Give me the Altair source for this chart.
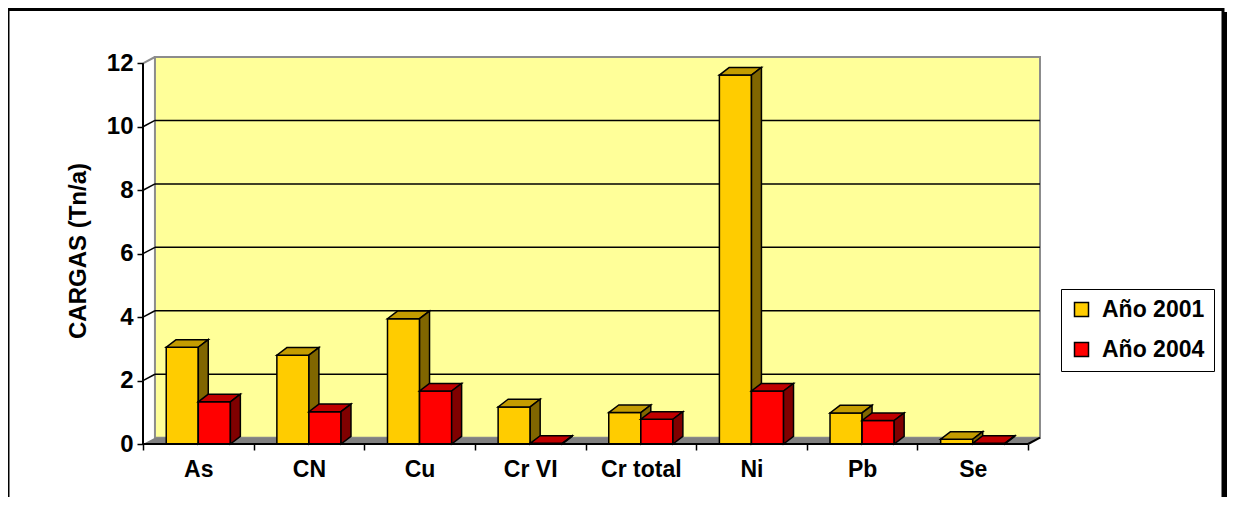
import altair as alt
import pandas as pd

# ---------------- data ----------------
categories = ["As", "CN", "Cu", "Cr VI", "Cr total", "Ni", "Pb", "Se"]
v2001 = [3.05, 2.80, 3.95, 1.17, 0.99, 11.63, 0.98, 0.15]
v2004 = [1.33, 1.02, 1.67, 0.02, 0.78, 1.67, 0.74, 0.02]
series_names = ["Año 2001", "Año 2004"]
y_ticks = [0, 2, 4, 6, 8, 10, 12]
y_title = "CARGAS (Tn/a)"

# ---------------- style ----------------
front_colors = ["#FFCC00", "#FF0000"]
top_colors = ["#C49C00", "#C00000"]
side_colors = ["#806600", "#800000"]
wall_color = "#FFFF99"
floor_color = "#808080"
edge_gray = "#8C8C8C"
FONT = "Liberation Sans"

W, H = 897, 387
PAD = {"left": 135, "top": 49, "right": 187, "bottom": 53}
N = len(categories)
WALL_DX, WALL_DY = 0.108, 0.2      # depth of the 3D box (data units)
BAR_DX, BAR_DY = 0.09, 0.24        # depth of the 3D columns (data units)
BAR_START, BAR_W = 0.21, 0.29      # column placement inside a category band
XMAX = N + WALL_DX
YMAX = max(y_ticks) + WALL_DY

xs = alt.Scale(domain=[0, XMAX], nice=False, zero=False)
ys = alt.Scale(domain=[0, YMAX], nice=False, zero=False)

xaxis = alt.Axis(
    values=list(range(N + 1)),
    labelExpr=f"{categories}[datum.value] || ''",
    labelOffset=W / XMAX / 2,
    labelFlush=False, labelOverlap=False, labelBound=False,
    domain=False, grid=False, tickSize=6, tickWidth=1.5, tickColor="black",
    labelFont=FONT, labelFontSize=23, labelFontWeight="bold", labelColor="black",
    labelPadding=8, title=None,
)
yaxis = alt.Axis(
    values=y_ticks, domain=False, grid=False, tickSize=6, tickWidth=1.5,
    tickColor="black", labelFont=FONT, labelFontSize=24, labelFontWeight="bold",
    labelColor="black", labelPadding=4, title=y_title, titleFont=FONT,
    titleFontSize=24, titleFontWeight="bold", titleColor="black", titlePadding=16,
)


def X(f, **kw):
    return alt.X(f, scale=xs, axis=xaxis, **kw)


def Y(f, **kw):
    return alt.Y(f, scale=ys, axis=yaxis, **kw)


# ---------------- derived tables ----------------
bars, tops, sides = [], [], []
for s, vals in enumerate([v2001, v2004]):
    for i, (c, v) in enumerate(zip(categories, vals)):
        x0 = i + BAR_START + s * BAR_W
        x1 = x0 + BAR_W
        key = f"{s}-{i}"
        bars.append(dict(cat=c, series=series_names[s], s=s, value=v, x0=x0, x1=x1, base=0.0))
        tops.append(dict(key=key, s=s, y=v, xa=x0, xb=x1))
        tops.append(dict(key=key, s=s, y=v + BAR_DY, xa=x0 + BAR_DX, xb=x1 + BAR_DX))
        sides.append(dict(key=key, s=s, x=x1, ya=v, yb=0.0))
        sides.append(dict(key=key, s=s, x=x1 + BAR_DX, ya=v + BAR_DY, yb=BAR_DY))
bars = pd.DataFrame(bars)
tops = pd.DataFrame(tops)
sides = pd.DataFrame(sides)

wall = pd.DataFrame([dict(x=WALL_DX, x2=N + WALL_DX, y=WALL_DY, y2=max(y_ticks) + WALL_DY)])
floor = pd.DataFrame([
    dict(y=0.0, xa=0.0, xb=float(N)),
    dict(y=WALL_DY, xa=WALL_DX, xb=N + WALL_DX),
])
grid = pd.DataFrame(
    [dict(x=WALL_DX, x2=N + WALL_DX, y=t + WALL_DY, y2=t + WALL_DY) for t in y_ticks[1:-1]]
    + [dict(x=0.0, x2=WALL_DX, y=t, y2=t + WALL_DY) for t in y_ticks[1:-1]]
)
wall_edge = pd.DataFrame([dict(x=0.0, x2=WALL_DX, y=max(y_ticks), y2=max(y_ticks) + WALL_DY)])
axis_lines = pd.DataFrame([
    dict(x=0.0, x2=float(N), y=0.0, y2=0.0),
    dict(x=0.0, x2=0.0, y=0.0, y2=float(max(y_ticks))),
    dict(x=float(N), x2=N + WALL_DX, y=0.0, y2=WALL_DY),
])

layers = []

layers.append(
    alt.Chart(wall).mark_rect(fill=wall_color, stroke=edge_gray, strokeWidth=2)
    .encode(x=X("x:Q"), x2="x2:Q", y=Y("y:Q"), y2="y2:Q")
)
layers.append(
    alt.Chart(wall_edge).mark_rule(color=edge_gray, strokeWidth=2)
    .encode(x=X("x:Q"), x2="x2:Q", y=Y("y:Q"), y2="y2:Q")
)
layers.append(
    alt.Chart(grid).mark_rule(color="black", strokeWidth=1.5)
    .encode(x=X("x:Q"), x2="x2:Q", y=Y("y:Q"), y2="y2:Q")
)
layers.append(
    alt.Chart(floor).mark_area(orient="horizontal", color=floor_color)
    .encode(y=Y("y:Q"), x=X("xa:Q", stack=None), x2="xb:Q")
)

legend = alt.Legend(
    title=None, orient="none", legendX=918, legendY=232,
    symbolType="square", symbolSize=196, symbolStrokeColor="black", symbolStrokeWidth=1.5,
    labelFont=FONT, labelFontSize=23, labelFontWeight="bold", labelColor="black",
    labelOffset=9, rowPadding=16, padding=9, strokeColor="black", fillColor="white",
)

for s in range(2):
    layers.append(
        alt.Chart(bars).transform_filter(alt.datum.s == s)
        .mark_rect(stroke="black", strokeWidth=1.5, opacity=1)
        .encode(
            x=X("x0:Q"), x2="x1:Q", y=Y("value:Q"), y2="base:Q",
            color=alt.Color("series:N", scale=alt.Scale(domain=series_names, range=front_colors),
                            legend=legend),
        )
    )
    layers.append(
        alt.Chart(tops).transform_filter(alt.datum.s == s)
        .mark_area(orient="horizontal", fill=top_colors[s], stroke="black", strokeWidth=1.5,
                   opacity=1)
        .encode(y=Y("y:Q"), x=X("xa:Q", stack=None), x2="xb:Q", detail="key:N")
    )
    layers.append(
        alt.Chart(sides).transform_filter(alt.datum.s == s)
        .mark_area(fill=side_colors[s], stroke="black", strokeWidth=1.5, opacity=1)
        .encode(x=X("x:Q"), y=Y("ya:Q", stack=None), y2="yb:Q", detail="key:N")
    )

layers.append(
    alt.Chart(axis_lines).mark_rule(color="black", strokeWidth=2)
    .encode(x=X("x:Q"), x2="x2:Q", y=Y("y:Q"), y2="y2:Q")
)

# outer frame of the picture (pixel positions relative to the plot origin)
right_edge = W + PAD["right"]
frame = pd.DataFrame([dict(k=1)])
layers.append(
    alt.Chart(frame).mark_rect(fillOpacity=0, stroke="black", strokeWidth=3)
    .encode(x=alt.value(-135), x2=alt.value(right_edge - 4), y=alt.value(-47.5),
            y2=alt.value(H + PAD["bottom"] + 20))
)
layers.append(
    alt.Chart(frame).mark_rule(color="black", strokeWidth=3)
    .encode(x=alt.value(right_edge - 1.5), y=alt.value(-45), y2=alt.value(H + PAD["bottom"] + 20))
)

chart = (
    alt.layer(*layers)
    .properties(
        width=W, height=H,
        autosize=alt.AutoSizeParams(type="none"),
        padding=PAD,
        background="white",
    )
    .configure_view(stroke=None)
)

chart.save("out.html", embed_options={"renderer": "svg", "actions": False})
